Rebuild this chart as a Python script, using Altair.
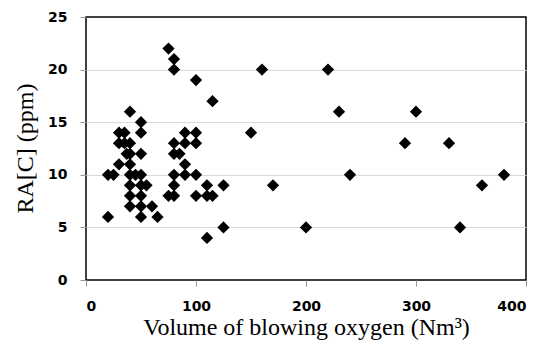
import altair as alt
import pandas as pd

# Volume of blowing oxygen (Nm3)
volume = [
    20, 25, 20,
    30, 35, 30, 35, 40, 30,
    40, 37, 40, 40,
    40, 45, 50,
    40, 50, 55,
    40, 50,
    40, 50, 60,
    50, 65,
    50, 50, 50,
    75, 80, 80, 100, 115,
    90, 100, 80, 90, 100, 80, 85, 90,
    80, 90, 100, 80, 110, 125,
    75, 80, 100, 110, 115,
    125, 110,
    150, 160, 170, 200, 220, 230, 240, 290, 300, 330, 340, 360, 380,
]
# RA[C] (ppm)
ra_c = [
    10, 10, 6,
    14, 14, 13, 13, 13, 11,
    16, 12, 12, 11,
    10, 10, 10,
    9, 9, 9,
    8, 8,
    7, 7, 7,
    6, 6,
    15, 14, 12,
    22, 21, 20, 19, 17,
    14, 14, 13, 13, 13, 12, 12, 11,
    10, 10, 10, 9, 9, 9,
    8, 8, 8, 8, 8,
    5, 4,
    14, 20, 9, 5, 20, 16, 10, 13, 16, 13, 5, 9, 10,
]
x_ticks = [0, 100, 200, 300, 400]
y_ticks = [0, 5, 10, 15, 20, 25]

df = pd.DataFrame({"volume": volume, "ra": ra_c})

label_font = "DejaVu Sans"

chart = alt.Chart(df).mark_point(
    shape="diamond", filled=True, color="black", size=150, opacity=1
).encode(
    x=alt.X(
        "volume:Q",
        scale=alt.Scale(domain=[0, 400], nice=False),
        axis=alt.Axis(
            values=x_ticks,
            title="Volume of blowing oxygen (Nm³)",
            grid=False,
            domain=False,
            tickColor="#999999",
            tickSize=6,
            labelFont=label_font,
            labelFontWeight="bold",
            labelFontSize=14,
            labelColor="black",
            labelPadding=13,
            titleFont="Liberation Serif",
            titleFontWeight="normal",
            titleFontSize=24,
            titleColor="black",
            titleBaseline="alphabetic",
            titleY=54,
        ),
    ),
    y=alt.Y(
        "ra:Q",
        scale=alt.Scale(domain=[0, 25], nice=False),
        axis=alt.Axis(
            values=y_ticks,
            title="RA[C] (ppm)",
            grid=True,
            gridColor={
                "condition": {"test": "datum.value == 25 || datum.value == 0", "value": "transparent"},
                "value": "#d9d9d9",
            },
            gridWidth=1.2,
            domain=False,
            tickColor="#999999",
            tickSize=6,
            labelFont=label_font,
            labelFontWeight="bold",
            labelFontSize=14,
            labelColor="black",
            labelPadding=13,
            titleFont="Liberation Serif",
            titleFontWeight="normal",
            titleFontSize=24,
            titleColor="black",
            titleAngle=-90,
            titleBaseline="middle",
            titleAlign="center",
            titleX=-61,
            titleY=131,
        ),
    ),
).properties(
    width=440,
    height=263,
    autosize="none",
    background="white",
    padding={"left": 86, "top": 17, "right": 21, "bottom": 71},
).configure_view(
    stroke="black", strokeWidth=1.5
)

chart.save("out.html", embed_options={"renderer": "svg", "actions": False})
